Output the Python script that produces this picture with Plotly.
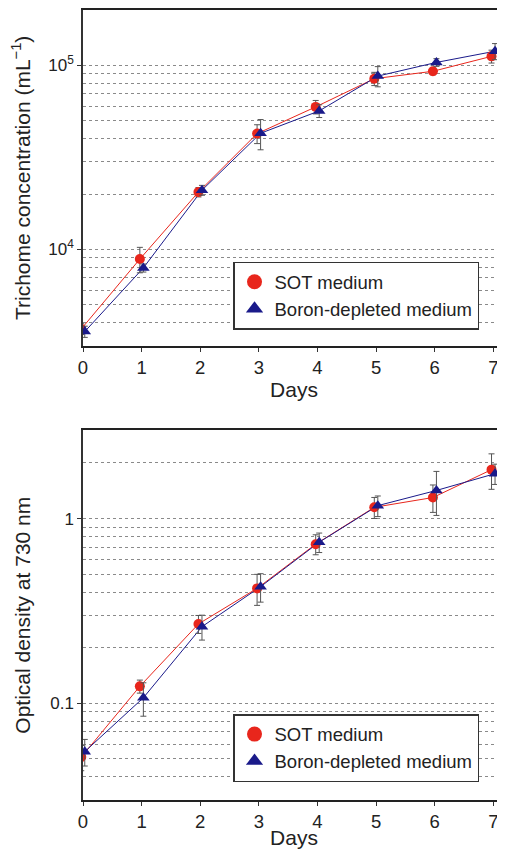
import plotly.graph_objects as go

days = [0, 1, 2, 3, 4, 5, 6, 7]

# Top panel: trichome concentration (mL^-1)
sot_conc = [3700, 8870, 20500, 42600, 59500, 84700, 92900, 112000]
sot_conc_err = [250, 1400, 1200, 5000, 5000, 7000, 4000, 9000]
bor_conc = [3580, 7940, 21000, 42800, 56600, 87500, 103800, 119400]
bor_conc_err = [250, 400, 1300, 8000, 4500, 11000, 5000, 12000]

# Bottom panel: optical density at 730 nm
sot_od = [0.0512, 0.1236, 0.269, 0.419, 0.727, 1.151, 1.30, 1.84]
sot_od_err = [0.008, 0.010, 0.030, 0.080, 0.09, 0.15, 0.22, 0.40]
bor_od = [0.0548, 0.1072, 0.260, 0.428, 0.745, 1.175, 1.42, 1.75]
bor_od_err = [0.009, 0.022, 0.040, 0.075, 0.09, 0.15, 0.38, 0.22]

series_names = ["SOT medium", "Boron-depleted medium"]

top_major = [1e4, 1e5]
top_major_text = ["10<sup>4</sup>", "10<sup>5</sup>"]
top_minor = [4000, 5000, 6000, 7000, 8000, 9000, 20000, 30000, 40000, 50000,
             60000, 70000, 80000, 90000, 200000]
bot_major = [0.1, 1]
bot_major_text = ["0.1", "1"]
bot_minor = [0.04, 0.05, 0.06, 0.07, 0.08, 0.09, 0.2, 0.3, 0.4, 0.5, 0.6,
             0.7, 0.8, 0.9, 2]

RED = "#e8261c"
NAVY = "#1a1a8a"
ERR = "#555555"
TXT = "#222222"
FONT = "Liberation Sans, Arial, sans-serif"

sot_x = [d - 0.03 for d in days]
bor_x = [d + 0.03 for d in days]

fig = go.Figure()


def add_pair(ys, es, yb, eb, xa, ya, leg):
    specs = [
        (sot_x, ys, es, RED, "circle", 10, series_names[0]),
        (bor_x, yb, eb, NAVY, "triangle-up", 11, series_names[1]),
    ]
    for xs, yv, ev, col, sym, sz, nm in specs:
        # connecting line
        fig.add_trace(go.Scatter(
            x=xs, y=yv, mode="lines", xaxis=xa, yaxis=ya, showlegend=False,
            line=dict(color=col, width=1), hoverinfo="skip",
        ))
    for xs, yv, ev, col, sym, sz, nm in specs:
        # markers with error bars
        fig.add_trace(go.Scatter(
            x=xs, y=yv, mode="markers", name=nm, xaxis=xa, yaxis=ya,
            showlegend=False,
            marker=dict(symbol=sym, size=sz, color=col),
            error_y=dict(type="data", array=ev, visible=True, color=ERR,
                         thickness=1, width=3),
        ))
    for xs, yv, ev, col, sym, sz, nm in specs:
        # legend entries (marker only, larger symbol)
        fig.add_trace(go.Scatter(
            x=[None], y=[None], mode="markers", name=nm, xaxis=xa, yaxis=ya,
            legend=leg, showlegend=True,
            marker=dict(symbol=sym, size=15, color=col),
        ))


add_pair(sot_conc, sot_conc_err, bor_conc, bor_conc_err, "x", "y", "legend")
add_pair(sot_od, sot_od_err, bor_od, bor_od_err, "x2", "y2", "legend2")

xaxis_common = dict(
    range=[0, 7.2], tickvals=days, ticks="outside", ticklen=4, tickwidth=1,
    tickcolor="#333", showline=True, linecolor="#222", linewidth=1.5,
    mirror=True, showgrid=False, zeroline=False,
    tickfont=dict(family=FONT, size=18.5, color=TXT),
)

yaxis_common = dict(
    type="log", ticks="outside", ticklen=4, tickwidth=1, tickcolor="#333",
    showline=True, linecolor="#333", linewidth=1.5, mirror=False,
    showgrid=True, gridcolor="#8a8a8a", griddash="dot", gridwidth=1,
    zeroline=False,
    tickfont=dict(family=FONT, size=17, color=TXT),
)

legend_common = dict(
    xanchor="left", yanchor="top",
    bgcolor="white", bordercolor="#333", borderwidth=1.5,
    font=dict(family=FONT, size=18.5, color=TXT),
    tracegroupgap=0, itemsizing="trace",
)

fig.update_layout(
    width=497, height=841,
    margin=dict(l=75, r=0, t=1, b=47),
    paper_bgcolor="white", plot_bgcolor="white",
    font=dict(family=FONT, color=TXT),
    xaxis=dict(domain=[0, 1], anchor="y",
               title=dict(text="Days", font=dict(family=FONT, size=21, color=TXT),
                          standoff=0),
               **xaxis_common),
    xaxis2=dict(domain=[0, 1], anchor="y2",
                title=dict(text="Days", font=dict(family=FONT, size=21, color=TXT),
                           standoff=2),
                **xaxis_common),
    yaxis=dict(
        domain=[0.5750, 1], anchor="x", range=[3.477, 5.301],
        tickvals=top_major, ticktext=top_major_text,
        minor=dict(tickvals=top_minor, showgrid=True, gridcolor="#8a8a8a",
                   griddash="dot", gridwidth=1, ticks=""),
        title=dict(text="Trichome concentration (mL<sup>\u22121</sup>)",
                   font=dict(family=FONT, size=21, color=TXT), standoff=12),
        **yaxis_common,
    ),
    yaxis2=dict(
        domain=[0, 0.4678], anchor="x2", range=[-1.523, 0.477],
        tickvals=bot_major, ticktext=bot_major_text,
        minor=dict(tickvals=bot_minor, showgrid=True, gridcolor="#8a8a8a",
                   griddash="dot", gridwidth=1, ticks=""),
        title=dict(text="Optical density at 730 nm",
                   font=dict(family=FONT, size=21, color=TXT), standoff=14),
        **yaxis_common,
    ),
    legend=dict(x=0.3555, y=0.6813, **legend_common),
    legend2=dict(x=0.3555, y=0.1088, **legend_common),
)

fig.write_html("out.html")
